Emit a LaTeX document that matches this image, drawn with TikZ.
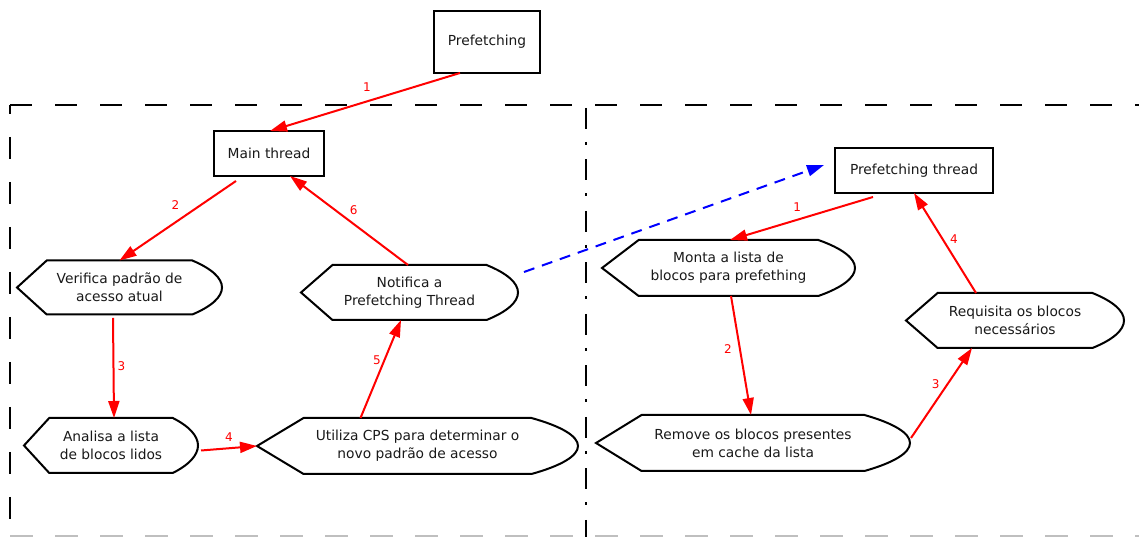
\documentclass[tikz,border=0pt]{standalone}
\usepackage{fontspec}
\setmainfont{DejaVu Sans}
\usetikzlibrary{arrows.meta,calc}
\newcommand\txtfont{\fontsize{13.8}{17.8}\selectfont}
\newcommand\lblfont{\fontsize{12}{14}\selectfont}
\begin{document}
\begin{tikzpicture}[x=1pt,y=1pt,
  frame/.style={black,line width=2pt},
  rbox/.style 2 args={draw,line width=2pt,minimum width=#1,minimum height=#2,
    inner sep=0pt,outer sep=0pt,font=\txtfont,align=center,text=black!90},
  disp/.style 2 args={minimum width=#1,minimum height=#2,
    inner sep=0pt,outer sep=0pt,font=\txtfont,align=center,text=black!90},
  outline/.style={line width=2pt,line join=miter},
  arr/.style={red,line width=2pt,-{Triangle[length=17pt,width=11pt]}},
  link/.style={blue,line width=2pt,dash pattern=on 11pt off 8pt,
    -{Triangle[length=17pt,width=11pt]}},
  lbl/.style={red,font=\lblfont,inner sep=0pt}]
\useasboundingbox (0,0) rectangle (1139,537);

% panel frame and divider
\draw[frame,dash pattern=on 22pt off 23pt] (10,432) -- (1139,432);
\draw[frame,dash pattern=on 22pt off 23pt,dash phase=13pt] (10,432) -- (10,0);
\draw[frame,dash pattern=on 21pt off 13pt on 3pt off 14.5pt,dash phase=48.5pt] (586,432) -- (586,0);
\draw[black!25,line width=1.5pt,dash pattern=on 23pt off 22pt] (10,0.75) -- (1139,0.75);

% rectangles
\node[rbox={106pt}{62pt}] (pf)   at (487,495)   {Prefetching};
\node[rbox={110pt}{45pt}] (main) at (269,383.5) {Main thread};
\node[rbox={158pt}{45pt}] (pt)   at (914,366.5) {Prefetching thread};

% display-shaped steps
\node[disp={205pt}{54pt}] (ver) at (119.5,249.5) {Verifica padrão de\\acesso atual};
\node[disp={217pt}{55pt}] (not) at (409.5,244.5) {Notifica a\\Prefetching Thread};
\node[disp={174pt}{55pt}] (ana) at (111,91.5)    {Analisa a lista\\de blocos lidos};
\node[disp={321pt}{56pt}] (uti) at (417.5,91)    {Utiliza CPS para determinar o\\novo padrão de acesso};
\node[disp={253pt}{56pt}] (mon) at (728.5,269)   {Monta a lista de\\blocos para prefething};
\node[disp={218pt}{55pt}] (req) at (1015,216.5)  {Requisita os blocos\\necessários};
\node[disp={314pt}{56pt}] (rem) at (753,94)      {Remove os blocos presentes\\em cache da lista};

\foreach \s in {ver,not,ana,uti,mon,req,rem}{
  \draw[outline] let \p1=(\s.north west), \p2=(\s.south east),
      \n1={0.145*(\x2-\x1)}, \n2={(\y1-\y2)/2} in
    (\x1,\y1-\n2) -- (\x1+\n1,\y1) -- (\x2-\n1,\y1)
    .. controls (\x2-0.35*\n1,\y1-0.3*\n2) and (\x2,\y1-0.65*\n2) .. (\x2,\y1-\n2)
    .. controls (\x2,\y2+0.65*\n2) and (\x2-0.35*\n1,\y2+0.3*\n2) .. (\x2-\n1,\y2)
    -- (\x1+\n1,\y2) -- cycle;
}

% left panel flow
\draw[arr] ([xshift=-27pt]pf.south) -- ([xshift=1pt]main.north)
  node[lbl,pos=0.49,yshift=14pt] {1};
\draw[arr] ([xshift=-33pt,yshift=-5pt]main.south) -- (ver.north)
  node[lbl,pos=0.52,yshift=17pt] {2};
\draw[arr] ([xshift=-6.5pt,yshift=-3.5pt]ver.south) -- ([xshift=3pt]ana.north)
  node[lbl,pos=0.48,xshift=8pt] {3};
\draw[arr] ([xshift=3pt,yshift=-5pt]ana.east) -- (uti.west)
  node[lbl,pos=0.5,yshift=11pt] {4};
\draw[arr] ([xshift=-57pt]uti.north) -- ([xshift=-8.5pt]not.south)
  node[lbl,pos=0.59,xshift=-7.5pt] {5};
\draw[arr] ([xshift=-1.5pt]not.north) -- ([xshift=21pt]main.south)
  node[lbl,pos=0.46,yshift=14pt] {6};

% hand-over to the prefetching thread
\draw[link] ([shift={(6pt,20.5pt)}]not.east) -- ([shift={(-11pt,5.5pt)}]pt.west);

% right panel flow
\draw[arr] ([xshift=-41pt,yshift=-4pt]pt.south) -- ([xshift=1.5pt]mon.north)
  node[lbl,pos=0.53,yshift=13pt] {1};
\draw[arr] ([xshift=2.5pt]mon.south) -- ([xshift=-2pt]rem.north)
  node[lbl,pos=0.45,xshift=-12pt] {2};
\draw[arr] ([shift={(1pt,5pt)}]rem.east) -- ([xshift=-43pt]req.south)
  node[lbl,pos=0.6,xshift=-12pt] {3};
\draw[arr] ([xshift=-39pt]req.north) -- (pt.south)
  node[lbl,pos=0.54,xshift=11.5pt] {4};
\end{tikzpicture}
\end{document}
